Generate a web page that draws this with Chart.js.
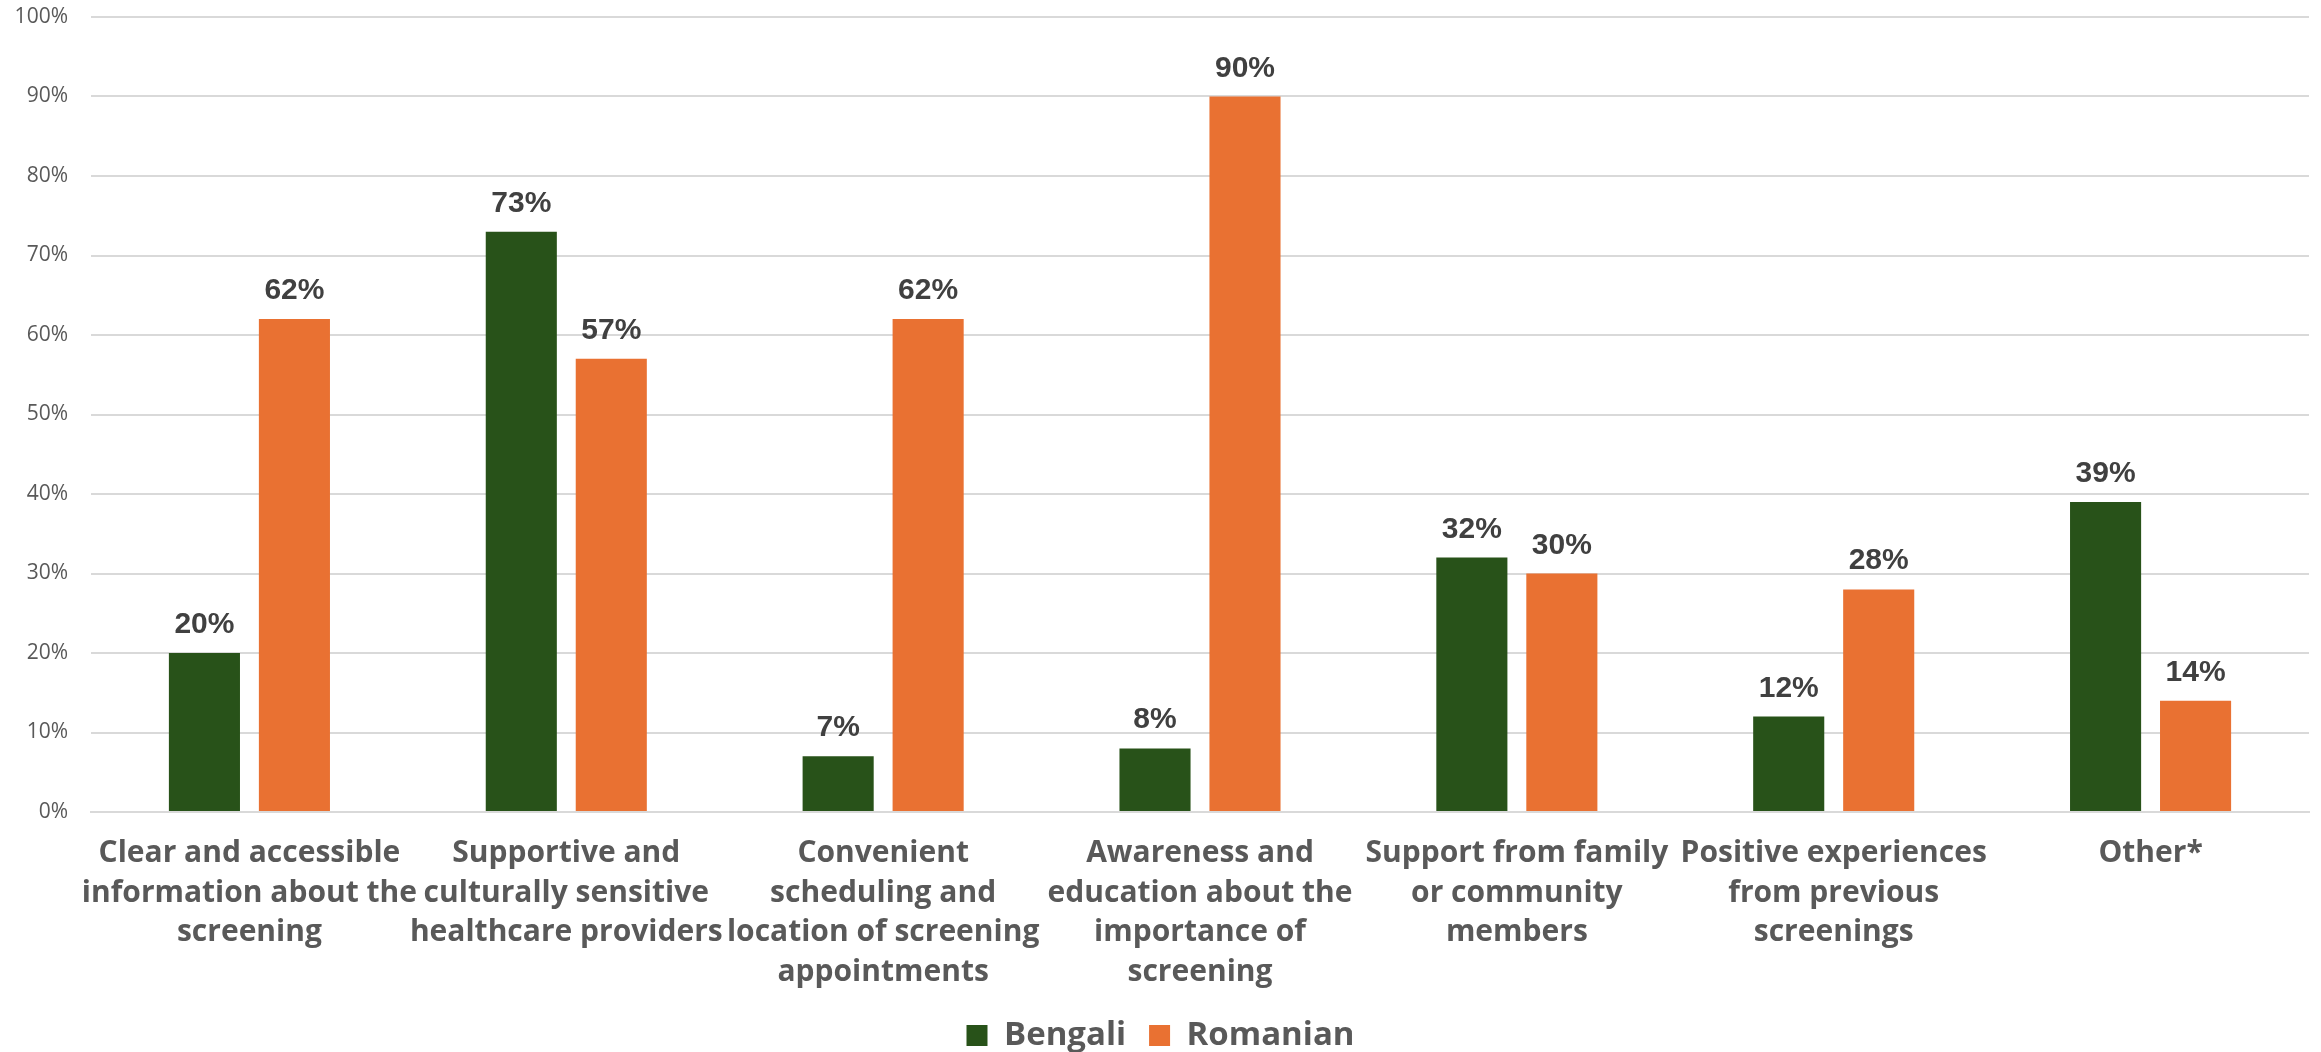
<!DOCTYPE html>
<html lang="en">
<head>
  <meta charset="UTF-8">
  <title>Screening Facilitators</title>
  <script src="https://cdn.jsdelivr.net/npm/chart.js@4/dist/chart.umd.min.js"></script>
  <style>
    html, body { margin: 0; padding: 0; background: #fff; }
    #wrap { width: 2321px; height: 1052px; }
  </style>
</head>
<body>
<div id="wrap">
  <canvas id="facilitatorChart" width="2321" height="1052"></canvas>
</div>

<script>
  // categories (wrapped for the axis)
  const categories = [
    ['Clear and accessible', 'information about the', 'screening'],
    ['Supportive and', 'culturally sensitive', 'healthcare providers'],
    ['Convenient', 'scheduling and', 'location of screening', 'appointments'],
    ['Awareness and', 'education about the', 'importance of', 'screening'],
    ['Support from family', 'or community', 'members'],
    ['Positive experiences', 'from previous', 'screenings'],
    ['Other*']
  ];

  const bengali = [20, 73, 7, 8, 32, 12, 39];
  const romanian = [62, 57, 62, 90, 30, 28, 14];

  const yTicks = [0, 10, 20, 30, 40, 50, 60, 70, 80, 90, 100];

  const GREEN = '#285219';
  const ORANGE = '#e97132';
  const GREY = '#595959';
  const PLOT_TOP = 17;

  // value labels above each bar
  const valueLabels = {
    id: 'valueLabels',
    afterDatasetsDraw(chart) {
      const ctx = chart.ctx;
      ctx.save();
      ctx.font = 'bold 30px "Liberation Sans", Arial, sans-serif';
      ctx.fillStyle = '#404040';
      ctx.textAlign = 'center';
      ctx.textBaseline = 'alphabetic';
      chart.data.datasets.forEach((ds, i) => {
        chart.getDatasetMeta(i).data.forEach((bar, j) => {
          ctx.fillText(ds.data[j] + '%', bar.x, bar.y - 20);
        });
      });
      ctx.restore();
    }
  };

  const chart = new Chart(document.getElementById('facilitatorChart').getContext('2d'), {
    type: 'bar',
    data: {
      labels: categories,
      datasets: [
        { label: 'Bengali', data: bengali, backgroundColor: GREEN },
        { label: 'Romanian', data: romanian, backgroundColor: ORANGE }
      ]
    },
    options: {
      responsive: false,
      animation: false,
      events: [],
      datasets: {
        bar: { categoryPercentage: 0.568, barPercentage: 0.79 }
      },
      layout: { autoPadding: false, padding: { left: 12, right: 12, top: PLOT_TOP, bottom: -10 } },
      scales: {
        x: {
          afterFit(axis) {
            axis.height = 184;
            axis.paddingLeft = 0;
            axis.paddingRight = 0;
          },
          grid: { display: false, drawTicks: false },
          border: { display: true, color: '#d9d9d9', width: 2 },
          ticks: {
            autoSkip: false,
            maxRotation: 0,
            minRotation: 0,
            padding: 22,
            color: GREY,
            font: { family: '"Open Sans"', size: 30, weight: 'bold', lineHeight: 1.317 }
          }
        },
        y: {
          min: 0,
          max: 100,
          afterBuildTicks(axis) {
            axis.ticks = yTicks.map(v => ({ value: v }));
          },
          afterFit(axis) {
            axis.width = 79;
            axis.paddingTop = 0;
            axis.paddingBottom = 0;
          },
          grid: { color: '#d9d9d9', lineWidth: 2, drawTicks: false },
          border: { display: false },
          ticks: {
            padding: 23,
            color: GREY,
            font: { family: '"Open Sans"', size: 21 },
            callback: v => v + '%'
          }
        }
      },
      plugins: {
        tooltip: { enabled: false },
        title: { display: false, padding: 0 },
        subtitle: { display: false, padding: 0 },
        legend: {
          position: 'bottom',
          labels: {
            boxWidth: 21,
            boxHeight: 21,
            padding: 23,
            color: GREY,
            font: { family: '"Open Sans"', size: 33, weight: 'bold' }
          }
        }
      }
    },
    plugins: [valueLabels]
  });

  // keep the 100% gridline at the top margin
  const shift = PLOT_TOP - chart.chartArea.top;
  if (Math.abs(shift) > 0.5) {
    chart.options.layout.padding.top += shift;
    chart.update();
  }
</script>
</body>
</html>
